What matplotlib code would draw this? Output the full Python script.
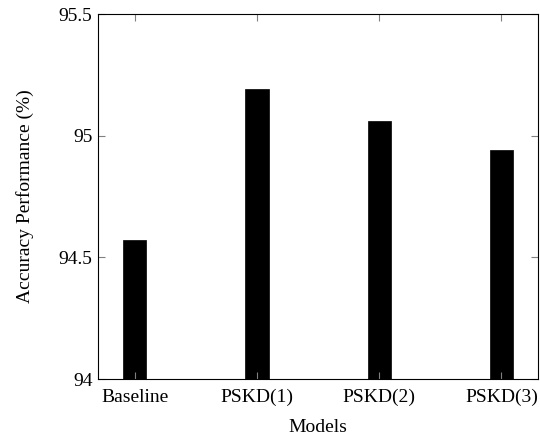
import matplotlib.pyplot as plt
import numpy as np

models = ["Baseline", "PSKD(1)", "PSKD(2)", "PSKD(3)"]
accuracy = [94.57, 95.19, 95.06, 94.94]
yticks = [94, 94.5, 95, 95.5]
ytick_labels = ["94", "94.5", "95", "95.5"]

plt.rcParams["font.family"] = ["Liberation Serif", "DejaVu Serif"]
plt.rcParams["font.size"] = 14

fig = plt.figure(figsize=(5.4, 4.36), dpi=100)
ax = fig.add_axes([98 / 540, 1 - 379 / 436, 440 / 540, 365 / 436])

x = np.arange(len(models))
ax.bar(x, accuracy, width=0.19, color="black", edgecolor="black", linewidth=0.5)

ax.set_xlim(-0.3, 3.3)
ax.set_ylim(94, 95.5)
ax.set_xticks(x)
ax.set_xticklabels(models)
ax.set_yticks(yticks)
ax.set_yticklabels(ytick_labels)

ax.tick_params(direction="in", length=5, width=0.8, color="#808080",
               top=True, right=True, labelsize=14, pad=4)
ax.tick_params(axis="x", pad=7)
for s in ax.spines.values():
    s.set_linewidth(0.8)

ax.set_xlabel("Models", fontsize=14, labelpad=9)
ax.set_ylabel("Accuracy Performance (%)", fontsize=14, labelpad=18)

fig.savefig("out.png", dpi=100)
